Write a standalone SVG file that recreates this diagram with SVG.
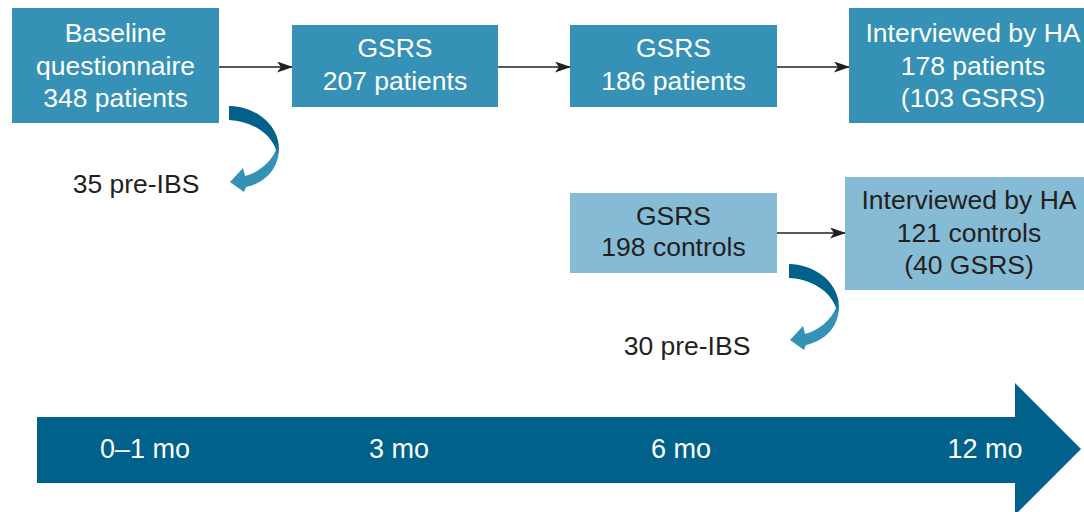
<svg xmlns="http://www.w3.org/2000/svg" width="1084" height="512" viewBox="0 0 1084 512">
<style>
.box{fill:#3592B6}
.lbox{fill:#86BBD5}
.t{font-family:"Liberation Sans",Arial,sans-serif;font-size:26.5px;text-anchor:middle}
.w{fill:#ffffff}
.d{fill:#231F20}
.tl{font-family:"Liberation Sans",Arial,sans-serif;font-size:27px;text-anchor:middle;fill:#ffffff}
.conn{stroke:#231F20;stroke-width:1.3;fill:none}
</style>
<defs>
<marker id="ah" markerWidth="16" markerHeight="11" refX="15" refY="5.5" orient="auto" markerUnits="userSpaceOnUse">
<path d="M0,0 L16,5.5 L0,11 L4,5.5 Z" fill="#231F20"/>
</marker>
<linearGradient id="cg" x1="0" y1="0" x2="0" y2="1">
<stop offset="0" stop-color="#00618A"/>
<stop offset="0.42" stop-color="#00618A"/>
<stop offset="0.58" stop-color="#3592B6"/>
<stop offset="1" stop-color="#3592B6"/>
</linearGradient>
<path id="curl" d="M229,106 C252,106 278,122 279,148 C279,170 264,183 246,187 L244,192 L230,182 L243,168 L245,176 C258,173 271,162 276,150 C270,132 250,121 229,120 Z" fill="url(#cg)"/>
</defs>

<g id="timeline">
<polygon points="37,417 1015,417 1015,383 1081,449 1015,515 1015,483 37,483" fill="#00618A"/>
<text class="tl" x="145" y="458">0–1 mo</text>
<text class="tl" x="399" y="458">3 mo</text>
<text class="tl" x="681" y="458">6 mo</text>
<text class="tl" x="985" y="458">12 mo</text>
</g>

<g id="connectors">
<line class="conn" x1="219" y1="67" x2="292" y2="67" marker-end="url(#ah)"/>
<line class="conn" x1="498" y1="67" x2="570" y2="67" marker-end="url(#ah)"/>
<line class="conn" x1="777" y1="67" x2="849" y2="67" marker-end="url(#ah)"/>
<line class="conn" x1="777" y1="233" x2="845" y2="233" marker-end="url(#ah)"/>
<use href="#curl"/>
<use href="#curl" transform="translate(560,158)"/>
</g>

<g id="baseline">
<rect class="box" x="12" y="8" width="207" height="115"/>
<text class="t w" x="115.5" y="42">Baseline</text>
<text class="t w" x="115.5" y="75">questionnaire</text>
<text class="t w" x="115.5" y="107">348 patients</text>
</g>

<g id="gsrs207">
<rect class="box" x="292" y="25" width="206" height="82"/>
<text class="t w" x="395" y="57">GSRS</text>
<text class="t w" x="395" y="90">207 patients</text>
</g>

<g id="gsrs186">
<rect class="box" x="570" y="25" width="207" height="82"/>
<text class="t w" x="673.5" y="57">GSRS</text>
<text class="t w" x="673.5" y="90">186 patients</text>
</g>

<g id="interview178">
<rect class="box" x="849" y="8" width="240" height="115"/>
<text class="t w" x="973" y="42">Interviewed by HA</text>
<text class="t w" x="973" y="75">178 patients</text>
<text class="t w" x="973" y="107">(103 GSRS)</text>
</g>

<g id="gsrs198">
<rect class="lbox" x="570" y="193" width="207" height="80"/>
<text class="t d" x="673.5" y="225">GSRS</text>
<text class="t d" x="673.5" y="256">198 controls</text>
</g>

<g id="interview121">
<rect class="lbox" x="845" y="177" width="244" height="113"/>
<text class="t d" x="969" y="209">Interviewed by HA</text>
<text class="t d" x="969" y="242">121 controls</text>
<text class="t d" x="969" y="274">(40 GSRS)</text>
</g>

<g id="preibs35">
<text class="t d" x="136" y="193">35 pre-IBS</text>
</g>
<g id="preibs30">
<text class="t d" x="687" y="355">30 pre-IBS</text>
</g>
</svg>
